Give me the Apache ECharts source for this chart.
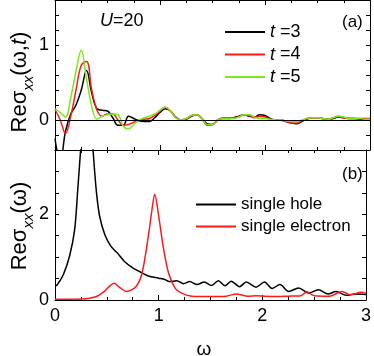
<!DOCTYPE html>
<html lang="en">
<head>
<meta charset="UTF-8">
<title>Re sigma xx</title>
<script src="https://cdn.jsdelivr.net/npm/echarts@6/dist/echarts.min.js"></script>
<style>
    html, body { margin: 0; padding: 0; background: #fff; }
    #main { width: 374px; height: 356px; }
</style>
</head>
<body>
<div id="main"></div>
<script>
    // panel (a): Re sigma_xx(w,t), common omega grid
    var wA = [0.00,0.05,0.10,0.15,0.20,0.25,0.30,0.35,0.40,0.45,0.50,0.55,0.60,0.65,0.70,0.75,0.80,0.85,0.90,0.95,1.00,
              1.05,1.10,1.15,1.20,1.25,1.30,1.35,1.40,1.45,1.50,1.55,1.60,1.65,1.70,1.75,1.80,1.85,1.90,1.95,2.00,
              2.05,2.10,2.15,2.20,2.25,2.30,2.35,2.40,2.45,2.50,2.55,2.60,2.65,2.70,2.75,2.80,2.85,2.90,2.95,3.00];
    var t3 = [-0.25,-0.55,-0.15,0.08,0.20,0.40,0.66,0.36,0.15,0.13,0.12,0.03,-0.07,-0.07,0.05,0.02,-0.01,-0.02,-0.02,0.03,0.10,
              0.15,0.12,0.04,0.00,0.01,0.05,0.07,0.02,-0.05,-0.06,0.00,0.02,0.02,0.03,0.05,0.07,0.05,0.04,0.07,0.06,
              0.02,0.00,0.00,-0.02,-0.04,-0.05,-0.02,0.01,0.03,0.03,0.02,0.01,0.02,0.04,0.03,0.02,0.02,0.01,0.01,0.01];
    var t4 = [0.14,0.00,-0.18,0.05,0.40,0.73,0.78,0.40,0.13,0.05,0.08,0.08,0.00,-0.07,-0.06,-0.03,0.00,0.01,0.02,0.06,0.12,
              0.17,0.12,0.03,0.00,0.02,0.06,0.07,0.02,-0.07,-0.06,0.00,0.03,0.03,0.03,0.04,0.07,0.06,0.03,0.05,0.04,
              0.01,0.00,0.00,-0.02,-0.04,-0.04,-0.01,0.02,0.03,0.03,0.02,0.01,0.03,0.05,0.03,0.02,0.02,0.02,0.02,0.02];
    var t5 = [0.15,0.10,0.04,0.30,0.65,0.93,0.55,0.18,0.01,0.05,0.07,0.08,0.07,-0.08,-0.12,-0.06,0.00,0.03,0.05,0.08,0.13,
              0.17,0.12,0.03,0.00,0.02,0.06,0.07,0.02,-0.06,-0.06,0.00,0.02,0.02,0.02,0.04,0.07,0.07,0.04,0.02,0.02,
              0.01,0.00,0.00,-0.01,-0.02,-0.02,0.00,0.02,0.03,0.03,0.02,0.01,0.03,0.05,0.04,0.02,0.02,0.02,0.01,0.01];

    // panel (b): single hole / single electron
    var holeW = [0.00,0.02,0.08,0.14,0.19,0.22,0.25,0.28,0.31,0.34,0.37,0.40,0.43,0.48,0.54,0.60,0.67,0.75,0.81,0.90,
                 1.00,1.06,1.10,1.175,1.24,1.30,1.37,1.44,1.51,1.575,1.64,1.70,1.78,1.845,1.94,2.02,2.095,2.17,2.255,
                 2.35,2.45,2.54,2.635,2.71,2.81,2.89,3.00];
    var holeS = [0.33,0.35,0.59,1.02,1.65,2.59,3.60,4.60,4.90,4.50,3.40,2.51,1.96,1.53,1.25,1.10,0.90,0.75,0.67,0.56,
                 0.51,0.48,0.43,0.45,0.38,0.43,0.36,0.42,0.34,0.45,0.33,0.44,0.31,0.42,0.30,0.42,0.27,0.36,0.20,
                 0.28,0.16,0.24,0.14,0.20,0.11,0.14,0.13];
    var elecW = [0.00,0.10,0.20,0.30,0.40,0.476,0.53,0.571,0.62,0.69,0.78,0.84,0.905,0.935,0.962,1.00,1.048,1.095,1.16,
                 1.22,1.32,1.45,1.54,1.65,1.75,1.85,1.95,2.10,2.25,2.37,2.43,2.50,2.65,2.77,2.85,2.95,3.00];
    var elecS = [0.02,0.02,0.02,0.03,0.08,0.20,0.33,0.39,0.30,0.20,0.31,0.63,1.57,2.10,2.47,1.96,1.18,0.63,0.27,
                 0.16,0.09,0.08,0.08,0.09,0.14,0.09,0.10,0.08,0.09,0.10,0.19,0.10,0.09,0.20,0.12,0.18,0.16];

    var xTicks = [0, 1, 2, 3];
    var yTicksA = [0, 1];
    var yTicksB = [0, 2];

    var FONT = 'Liberation Sans, Arial, sans-serif';

    function pairs(xs, ys) {
        var out = [];
        for (var i = 0; i < xs.length; i++) out.push([xs[i], ys[i]]);
        return out;
    }

    function onList(v, list) {
        for (var i = 0; i < list.length; i++) {
            if (Math.abs(v - list[i]) < 1e-6) return String(list[i]);
        }
        return '';
    }

    function xAx(grid, pos, labels) {
        return {
            type: 'value', gridIndex: grid, position: pos,
            min: 0, max: 3, interval: 1,
            axisLine: { show: true, onZero: false, lineStyle: { color: '#000', width: 1 } },
            axisTick: { show: true, inside: true, length: 5, lineStyle: { color: '#000' } },
            minorTick: { show: true, splitNumber: 4, length: 3, lineStyle: { color: '#000' } },
            axisLabel: { show: labels, color: '#000', fontSize: 18, fontFamily: FONT, margin: 7,
                formatter: function (v) { return onList(v, xTicks); } },
            splitLine: { show: false }
        };
    }

    function yAx(grid, pos, min, max, step, ticks, labels) {
        return {
            type: 'value', gridIndex: grid, position: pos,
            min: min, max: max, interval: step,
            axisLine: { show: true, onZero: false, lineStyle: { color: '#000', width: 1 } },
            axisTick: { show: true, inside: true, length: 4, lineStyle: { color: '#000' } },
            axisLabel: { show: labels, color: '#000', fontSize: 18, fontFamily: FONT, margin: 6,
                formatter: function (v) { return onList(v, ticks); } },
            splitLine: { show: false }
        };
    }

    var myChart = echarts.init(document.getElementById('main'));

    var option = {
        animation: false,
        backgroundColor: '#fff',
        grid: [
            { left: 55, right: 4, top: 0, height: 150 },
            { left: 55, right: 4, top: 150, height: 150 }
        ],
        xAxis: [
            xAx(0, 'bottom', false),
            xAx(0, 'top', false),
            xAx(1, 'bottom', true),
            xAx(1, 'top', false)
        ],
        yAxis: [
            yAx(0, 'left', -0.4, 1.6, 0.2, yTicksA, true),
            yAx(0, 'right', -0.4, 1.6, 0.2, yTicksA, false),
            yAx(1, 'left', 0, 3.5, 0.5, yTicksB, true),
            yAx(1, 'right', 0, 3.5, 0.5, yTicksB, false)
        ],
        legend: [
            {
                data: ['t =3', 't =4', 't =5'],
                orient: 'vertical', left: 225, top: 23, padding: 0,
                icon: 'rect', itemWidth: 40, itemHeight: 2, itemGap: 4.5,
                textStyle: { fontSize: 18, lineHeight: 18, fontFamily: FONT, color: '#000',
                    rich: { i: { fontSize: 18, lineHeight: 18, fontFamily: FONT, fontStyle: 'italic', color: '#000' },
                            n: { fontSize: 18, lineHeight: 18, fontFamily: FONT, color: '#000' } } },
                formatter: function (name) { return '{i|t}{n|' + name.slice(1) + '}'; }
            },
            {
                data: ['single hole', 'single electron'],
                orient: 'vertical', left: 196, top: 196, padding: 0,
                icon: 'rect', itemWidth: 40, itemHeight: 2, itemGap: 5,
                textStyle: { fontSize: 17, lineHeight: 17, fontFamily: FONT, color: '#000' }
            }
        ],
        graphic: [
            {
                type: 'text', x: 20, y: 82, rotation: Math.PI / 2,
                style: {
                    text: '{m|Reσ}{s|xx}{m|(ω,}{i|t}{m|)}',
                    align: 'center', verticalAlign: 'middle',
                    rich: {
                        m: { fontSize: 22, fontFamily: FONT, fill: '#000', lineHeight: 32, verticalAlign: 'middle' },
                        i: { fontSize: 22, fontFamily: FONT, fontStyle: 'italic', fill: '#000', lineHeight: 32, verticalAlign: 'middle' },
                        s: { fontSize: 15, fontFamily: FONT, fontStyle: 'italic', fill: '#000', lineHeight: 15, verticalAlign: 'bottom' }
                    }
                }
            },
            {
                type: 'text', x: 20, y: 226, rotation: Math.PI / 2,
                style: {
                    text: '{m|Reσ}{s|xx}{m|(ω)}',
                    align: 'center', verticalAlign: 'middle',
                    rich: {
                        m: { fontSize: 22, fontFamily: FONT, fill: '#000', lineHeight: 32, verticalAlign: 'middle' },
                        s: { fontSize: 15, fontFamily: FONT, fontStyle: 'italic', fill: '#000', lineHeight: 15, verticalAlign: 'bottom' }
                    }
                }
            },
            {
                type: 'text', x: 100, y: 21,
                style: {
                    text: '{i|U}{n|=20}', verticalAlign: 'middle',
                    rich: {
                        i: { fontSize: 18, fontFamily: FONT, fontStyle: 'italic', fill: '#000' },
                        n: { fontSize: 18, fontFamily: FONT, fill: '#000' }
                    }
                }
            },
            { type: 'text', x: 342, y: 22, style: { text: '(a)', fontSize: 17, fontFamily: FONT, fill: '#000', verticalAlign: 'middle' } },
            { type: 'text', x: 342, y: 174, style: { text: '(b)', fontSize: 17, fontFamily: FONT, fill: '#000', verticalAlign: 'middle' } },
            { type: 'text', x: 204, y: 350, style: { text: 'ω', fontSize: 19, fontFamily: FONT, fill: '#000', align: 'center', verticalAlign: 'middle' } }
        ],
        series: [
            {
                name: 't =3', type: 'line', xAxisIndex: 0, yAxisIndex: 0,
                data: pairs(wA, t3), symbol: 'none', smooth: 0.4,
                lineStyle: { color: '#000', width: 1.5 }, itemStyle: { color: '#000' },
                markLine: {
                    silent: true, symbol: 'none', label: { show: false },
                    lineStyle: { color: '#000', width: 1, type: 'solid' },
                    data: [{ yAxis: 0 }]
                }
            },
            {
                name: 't =4', type: 'line', xAxisIndex: 0, yAxisIndex: 0,
                data: pairs(wA, t4), symbol: 'none', smooth: 0.4,
                lineStyle: { color: '#ff1a1a', width: 1.5 }, itemStyle: { color: '#ff1a1a' }
            },
            {
                name: 't =5', type: 'line', xAxisIndex: 0, yAxisIndex: 0,
                data: pairs(wA, t5), symbol: 'none', smooth: 0.4,
                lineStyle: { color: '#7ce81c', width: 1.5 }, itemStyle: { color: '#7ce81c' }
            },
            {
                name: 'single hole', type: 'line', xAxisIndex: 2, yAxisIndex: 2,
                data: pairs(holeW, holeS), symbol: 'none', smooth: 0.3,
                lineStyle: { color: '#000', width: 1.5 }, itemStyle: { color: '#000' }
            },
            {
                name: 'single electron', type: 'line', xAxisIndex: 2, yAxisIndex: 2,
                data: pairs(elecW, elecS), symbol: 'none', smooth: 0.3,
                lineStyle: { color: '#ff1a1a', width: 1.5 }, itemStyle: { color: '#ff1a1a' }
            }
        ]
    };

    myChart.setOption(option);
</script>
</body>
</html>
